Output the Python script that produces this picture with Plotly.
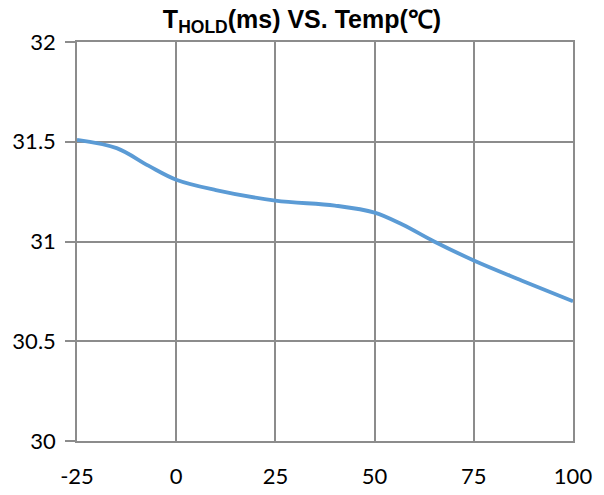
import plotly.graph_objects as go

temp = [-25, -15, -7, 0, 10, 25, 40, 50, 57, 65, 75, 87, 100]
thold = [31.51, 31.468, 31.38, 31.31, 31.258, 31.205, 31.18, 31.145, 31.085, 31.0, 30.905, 30.805, 30.70]
x_ticks = [-25, 0, 25, 50, 75, 100]
y_ticks = [30, 30.5, 31, 31.5, 32]

fig = go.Figure()
fig.add_trace(go.Scatter(x=temp, y=thold, mode="lines",
                         line=dict(color="#5B9BD5", width=3.8, shape="spline", smoothing=1.0),
                         hoverinfo="skip"))

grid = "#8c8c8c"
fig.update_layout(
    width=604, height=495,
    margin=dict(l=77, r=31, t=42, b=54, autoexpand=False),
    paper_bgcolor="white", plot_bgcolor="white",
    showlegend=False,
    title=dict(text="<b>T<sub>HOLD</sub>(ms) VS. Temp(℃)</b>",
               x=0.5, xanchor="center", y=0.962, yanchor="middle",
               font=dict(family="Liberation Sans", size=25, color="black")),
    font=dict(family="Lato", size=22, color="black"),
)
fig.update_xaxes(range=[-25, 100], tickvals=x_ticks, ticktext=[str(v) for v in x_ticks],
                 showgrid=True, gridcolor=grid, gridwidth=1.5,
                 showline=True, linecolor=grid, linewidth=1.5, mirror=True,
                 ticks="", ticklabelstandoff=15, zeroline=False, automargin=False)
fig.update_yaxes(range=[30, 32], tickvals=y_ticks, ticktext=["30", "30.5", "31", "31.5", "32"],
                 showgrid=True, gridcolor=grid, gridwidth=1.5,
                 showline=True, linecolor=grid, linewidth=1.5, mirror=True,
                 ticks="outside", ticklen=10, tickcolor=grid, tickwidth=1.5,
                 ticklabelstandoff=5, zeroline=False, automargin=False)

fig.write_html("out.html")
